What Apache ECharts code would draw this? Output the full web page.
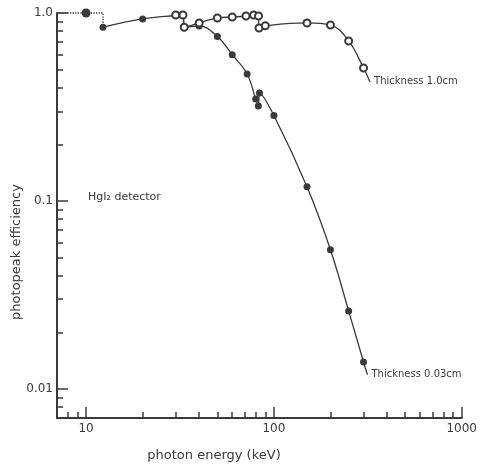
<!DOCTYPE html>
<html>
<head>
<meta charset="utf-8">
<script src="https://cdn.jsdelivr.net/npm/echarts@6/dist/echarts.min.js"></script>
<style>
  html, body { margin: 0; padding: 0; background: #fff; }
</style>
</head>
<body>
<div id="main" style="width: 480px; height: 470px"></div>
<script>
// photon energy (keV) / photopeak efficiency
var thinEnergy = [12.3, 20, 30, 32.8, 33.3, 40, 50, 60, 72, 80, 82.6, 83.8, 100, 150, 200, 250, 300, 315];
var thinEff = [0.84, 0.93, 0.97, 0.975, 0.84, 0.853, 0.75, 0.60, 0.474, 0.349, 0.32, 0.375, 0.285, 0.119, 0.055, 0.026, 0.0139, 0.0119];
var thickEnergy = [30, 32.8, 33.3, 40, 50, 60, 71, 78, 82.8, 83.3, 90, 150, 200, 250, 300, 325];
var thickEff = [0.976, 0.976, 0.84, 0.885, 0.941, 0.952, 0.964, 0.976, 0.964, 0.832, 0.855, 0.885, 0.863, 0.71, 0.51, 0.43];
// low-energy dotted part (axis -> 10 keV point -> Hg L edge)
var lowEnergy = [7, 10, 12.3, 12.3];
var lowEff = [1.0, 1.0, 1.0, 0.84];

var xMajor = [10, 100, 1000];
var xMinor = [8, 9, 20, 30, 40, 50, 60, 70, 80, 90, 200, 300, 400, 500, 600, 700, 800, 900];
var yMajor = [0.01, 0.1, 1.0];
var yMinor = [0.008, 0.009, 0.02, 0.03, 0.04, 0.05, 0.06, 0.07, 0.08, 0.09,
              0.2, 0.3, 0.4, 0.5, 0.6, 0.7, 0.8, 0.9];

var ink = "#3a3a3a";
var font = "DejaVu Sans";

function pairs(xs, ys) {
  return xs.map(function (x, i) { return [x, ys[i]]; });
}

var thinData = pairs(thinEnergy, thinEff).map(function (p, i) {
  // points hidden under the open circles and the line end carry no marker
  if (i === 2 || i === 3 || i === thinEnergy.length - 1) {
    return { value: p, symbol: "none" };
  }
  return p;
});
var thickData = pairs(thickEnergy, thickEff).map(function (p, i) {
  if (i === thickEnergy.length - 1) return { value: p, symbol: "none" };
  return p;
});
var lowData = pairs(lowEnergy, lowEff).map(function (p, i) {
  if (i === 1) return { value: p, symbol: "circle", symbolSize: 9 };
  return { value: p, symbol: "none" };
});

var myChart = echarts.init(document.getElementById("main"));
myChart.setOption({
  backgroundColor: "#fff",
  animation: false,
  grid: { left: 57, right: 18, top: 13, bottom: 52 },
  xAxis: [
    {
      type: "log",
      min: 7,
      max: 1000,
      position: "bottom",
      axisLine: { lineStyle: { color: ink, width: 2 } },
      axisTick: { customValues: xMajor, inside: true, length: 11, lineStyle: { color: ink, width: 1.5 } },
      axisLabel: {
        customValues: xMajor, color: ink, fontSize: 12, fontFamily: font, margin: 5,
        formatter: function (v) { return String(v); },
      },
      splitLine: { show: false },
    },
    {
      type: "log",
      min: 7,
      max: 1000,
      position: "bottom",
      axisLine: { show: false },
      axisTick: { customValues: xMinor, inside: true, length: 6, lineStyle: { color: ink, width: 1.5 } },
      axisLabel: { show: false },
      splitLine: { show: false },
    },
  ],
  yAxis: [
    {
      type: "log",
      min: 0.007,
      max: 1.0,
      position: "left",
      axisLine: { lineStyle: { color: ink, width: 2 } },
      axisTick: { customValues: yMajor, inside: true, length: 11, lineStyle: { color: ink, width: 1.5 } },
      axisLabel: {
        customValues: yMajor,
        color: ink,
        fontSize: 12,
        fontFamily: font,
        margin: 4,
        formatter: function (v) { return v === 1 ? "1.0" : String(v); },
      },
      splitLine: { show: false },
    },
    {
      type: "log",
      min: 0.007,
      max: 1.0,
      position: "left",
      axisLine: { show: false },
      axisTick: { customValues: yMinor, inside: true, length: 6, lineStyle: { color: ink, width: 1.5 } },
      axisLabel: { show: false },
      splitLine: { show: false },
    },
  ],
  graphic: [
    {
      type: "text",
      x: 17,
      y: 252,
      rotation: Math.PI / 2,
      style: { text: "photopeak efficiency", fill: ink, font: "13px " + font, align: "center", verticalAlign: "middle" },
    },
    {
      type: "text",
      x: 214,
      y: 456,
      style: { text: "photon energy (keV)", fill: ink, font: "13px " + font, align: "center", verticalAlign: "middle" },
    },
    {
      type: "text",
      x: 88,
      y: 197,
      style: { text: "HgI₂ detector", fill: ink, font: "11px " + font, align: "left", verticalAlign: "middle" },
    },
  ],
  series: [
    {
      name: "low",
      type: "line",
      xAxisIndex: 0,
      yAxisIndex: 0,
      data: lowData,
      symbol: "none",
      lineStyle: { color: ink, width: 1.3, type: "dotted" },
      itemStyle: { color: ink },
      clip: false,
    },
    {
      name: "Thickness 0.03cm",
      type: "line",
      xAxisIndex: 0,
      yAxisIndex: 0,
      data: thinData,
      smooth: 0.4,
      symbol: "circle",
      symbolSize: 7,
      showAllSymbol: true,
      lineStyle: { color: ink, width: 1.3 },
      itemStyle: { color: ink },
      endLabel: { show: true, formatter: "Thickness 0.03cm", color: ink, fontSize: 10, fontFamily: font, distance: 4 },
    },
    {
      name: "Thickness 1.0cm",
      type: "line",
      xAxisIndex: 0,
      yAxisIndex: 0,
      data: thickData,
      smooth: 0.4,
      symbol: "emptyCircle",
      symbolSize: 7,
      showAllSymbol: true,
      lineStyle: { color: ink, width: 1.3 },
      itemStyle: { color: ink, borderWidth: 1.3 },
      endLabel: { show: true, formatter: "Thickness 1.0cm", color: ink, fontSize: 10, fontFamily: font, distance: 4 },
    },
  ],
});
</script>
</body>
</html>
